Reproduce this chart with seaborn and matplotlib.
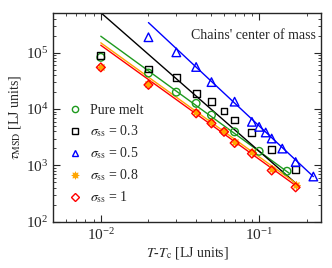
import numpy as np
import pandas as pd
import matplotlib
matplotlib.use("Agg")
import matplotlib.pyplot as plt
import seaborn as sns
from matplotlib.lines import Line2D

# ---- data ----
x_pure = [0.01, 0.02, 0.03, 0.04, 0.05, 0.07, 0.10, 0.15]
y_pure = [82400, 43400, 19900, 12600, 7800, 3940, 1780, 790]

x_03 = [0.01, 0.02, 0.03, 0.04, 0.05, 0.06, 0.07, 0.09, 0.12, 0.17]
y_03 = [88400, 51200, 36200, 19000, 13500, 9200, 6370, 3840, 1900, 850]

x_05 = [0.02, 0.03, 0.04, 0.05, 0.07, 0.09, 0.10, 0.11, 0.12, 0.14, 0.17, 0.22]
y_05 = [187000, 101000, 55600, 30000, 13500, 5930, 4830, 3840, 3000, 1990, 1150, 637]

x_08 = [0.01, 0.02, 0.04, 0.05, 0.06, 0.07, 0.09, 0.12, 0.17]
y_08 = [56500, 27800, 8700, 5800, 4100, 2650, 1700, 870, 450]

x_1 = [0.01, 0.02, 0.04, 0.05, 0.06, 0.07, 0.09, 0.12, 0.17]
y_1 = [54700, 26800, 8380, 5560, 3940, 2500, 1620, 815, 410]

# power-law fits: value at x_ref, exponent, x range
fit_ref_x = [0.01, 0.01, 0.02, 0.01, 0.01]
fit_ref_y = [195000, 510000, 340000, 149000, 135000]
fit_expo = [-2.04, -2.455, -2.62, -2.02, -2.02]
fit_xmin = [0.01, 0.01, 0.02, 0.01, 0.01]
fit_xmax = [0.155, 0.17, 0.22, 0.17, 0.17]

labels = ["Pure melt", r"$\sigma_{\rm ss}$ = 0.3", r"$\sigma_{\rm ss}$ = 0.5",
          r"$\sigma_{\rm ss}$ = 0.8", r"$\sigma_{\rm ss}$ = 1"]
colors = ["#1e9a1e", "#000000", "#0000ff", "#ffa500", "#ff0000"]
markers = ["o", "s", "^", (8, 1, 0), "D"]
msizes = [30, 24, 38, 34, 20]
filled = [False, False, False, True, False]

xs = [x_pure, x_03, x_05, x_08, x_1]
ys = [y_pure, y_03, y_05, y_08, y_1]

# ---- style ----
sns.set_style("ticks")
plt.rcParams["font.family"] = ["Liberation Serif", "DejaVu Serif"]
plt.rcParams["mathtext.fontset"] = "stix"
plt.rcParams["font.size"] = 10

fig = plt.figure(figsize=(3.32, 2.68), dpi=100)
ax = fig.add_axes([0.160, 0.172, 0.807, 0.779])

# fit lines
for i in range(5):
    xl = np.geomspace(fit_xmin[i], fit_xmax[i], 50)
    yl = fit_ref_y[i] * (xl / fit_ref_x[i]) ** fit_expo[i]
    sns.lineplot(x=xl, y=yl, ax=ax, color=colors[i], lw=1.0, legend=False)

# markers
for i in range(5):
    df = pd.DataFrame({"x": xs[i], "y": ys[i]})
    if filled[i]:
        sns.scatterplot(data=df, x="x", y="y", ax=ax, marker=markers[i], s=msizes[i],
                        color=colors[i], edgecolor=colors[i], linewidth=0.6, legend=False, zorder=3)
    else:
        sns.scatterplot(data=df, x="x", y="y", ax=ax, marker=markers[i], s=msizes[i],
                        facecolor="none", edgecolor=colors[i], linewidth=1.0, legend=False, zorder=3)

ax.set_xscale("log")
ax.set_yscale("log")
ax.set_xlim(0.005, 0.246)
ax.set_ylim(100, 5e5)

ax.tick_params(which="both", direction="in", top=True, right=True, labelsize=11)
ax.tick_params(which="major", length=5, width=0.8)
ax.tick_params(which="minor", length=2.5, width=0.6)
for s in ax.spines.values():
    s.set_linewidth(1.0)

ax.set_xlabel(r"$T$-$T_{\rm c}$ [LJ units]", fontsize=10, labelpad=2)
ax.set_ylabel(r"$\tau_{\rm MSD}$ [LJ units]", fontsize=10, labelpad=2)

ax.text(0.981, 0.895, "Chains' center of mass", transform=ax.transAxes,
        ha="right", va="center", fontsize=10)

handles = []
for i in range(5):
    if filled[i]:
        h = Line2D([], [], ls="none", marker=markers[i], ms=5.5, color=colors[i],
                   mec=colors[i], mew=0.5)
    else:
        h = Line2D([], [], ls="none", marker=markers[i], ms=4.5 if i != 4 else 4,
                   mfc="none", mec=colors[i], mew=1.0)
    handles.append(h)
ax.legend(handles, labels, loc="upper left", bbox_to_anchor=(0.035, 0.59),
          frameon=False, fontsize=10, handlelength=1.0, handletextpad=0.6,
          labelspacing=0.45, borderaxespad=0)

fig.savefig("out.png", dpi=100)
